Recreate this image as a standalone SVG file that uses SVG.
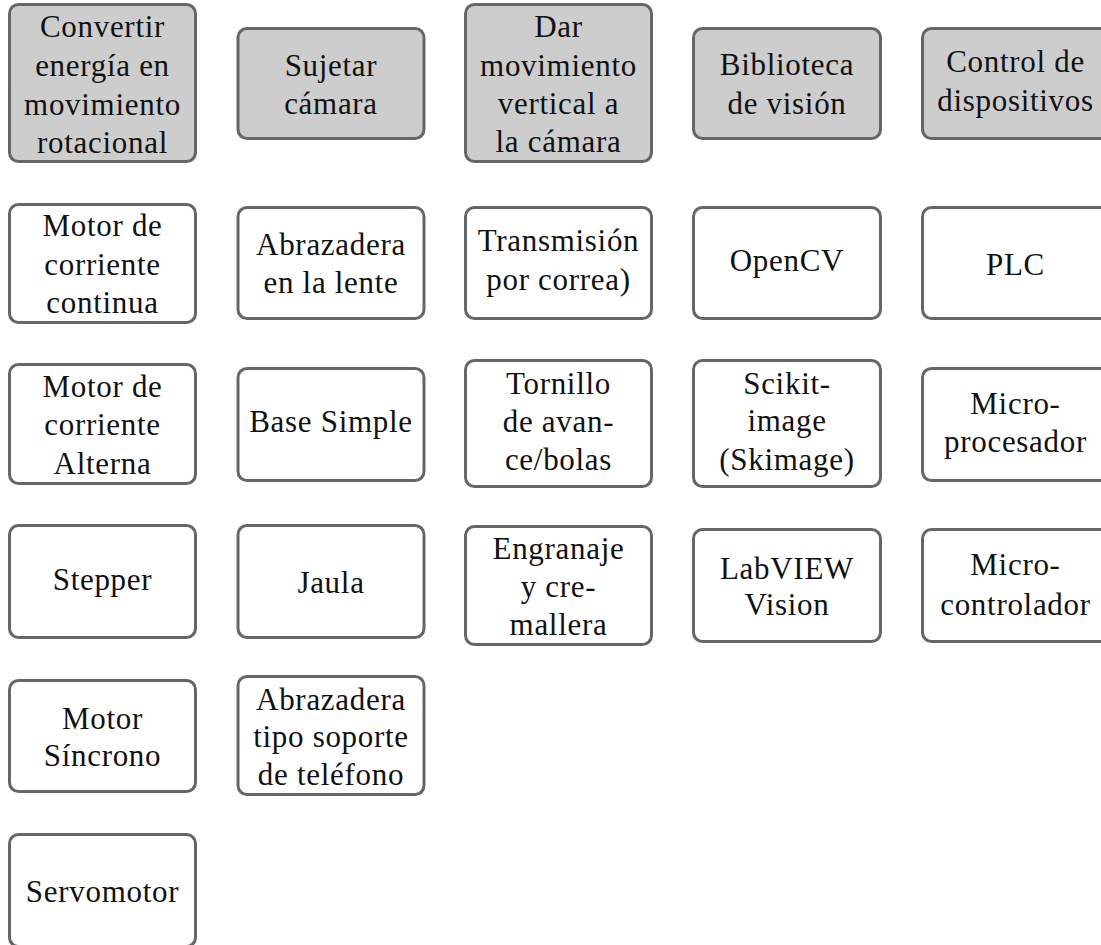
<svg xmlns="http://www.w3.org/2000/svg" width="1101" height="945" viewBox="0 0 1101 945">
  <style>
    .box { fill: #ffffff; stroke: #666666; stroke-width: 3; }
    .head { fill: #cdcdcd; }
    text { font-family: "Liberation Serif", "Times New Roman", serif; font-size: 31px; fill: #111111; text-anchor: middle; letter-spacing: 0.7px; }
  </style>
  <rect width="1101" height="945" fill="#ffffff"/>

  <!-- column 1: Convertir energía en movimiento rotacional -->
  <g id="n_convertir">
    <rect class="box head" x="9.5" y="4.5" width="186" height="157" rx="9"/>
    <text x="102.5" y="37">Convertir</text>
    <text x="102.5" y="76">energía en</text>
    <text x="102.5" y="114.5">movimiento</text>
    <text x="102.5" y="153">rotacional</text>
  </g>
  <g id="n_motor_cc">
    <rect class="box" x="9.5" y="204.5" width="186" height="118" rx="9"/>
    <text x="102.5" y="236">Motor de</text>
    <text x="102.5" y="274.5">corriente</text>
    <text x="102.5" y="313">continua</text>
  </g>
  <g id="n_motor_ca">
    <rect class="box" x="9.5" y="364.5" width="186" height="119" rx="9"/>
    <text x="102.5" y="396.5">Motor de</text>
    <text x="102.5" y="435">corriente</text>
    <text x="102.5" y="473.5">Alterna</text>
  </g>
  <g id="n_stepper">
    <rect class="box" x="9.5" y="525.5" width="186" height="112" rx="9"/>
    <text x="102.5" y="590">Stepper</text>
  </g>
  <g id="n_sincrono">
    <rect class="box" x="9.5" y="680.5" width="186" height="111" rx="9"/>
    <text x="102.5" y="728.5">Motor</text>
    <text x="102.5" y="766">Síncrono</text>
  </g>
  <g id="n_servo">
    <rect class="box" x="9.5" y="834.5" width="186" height="112" rx="9"/>
    <text x="102.5" y="901.5">Servomotor</text>
  </g>

  <!-- column 2: Sujetar cámara -->
  <g id="n_sujetar">
    <rect class="box head" x="238" y="28.5" width="186" height="110" rx="9"/>
    <text x="331" y="76">Sujetar</text>
    <text x="331" y="113.5">cámara</text>
  </g>
  <g id="n_abraz_lente">
    <rect class="box" x="238" y="207.5" width="186" height="111" rx="9"/>
    <text x="331" y="255">Abrazadera</text>
    <text x="331" y="293">en la lente</text>
  </g>
  <g id="n_base">
    <rect class="box" x="238" y="368.5" width="186" height="112" rx="9"/>
    <text x="331" y="431.5">Base Simple</text>
  </g>
  <g id="n_jaula">
    <rect class="box" x="238" y="525.5" width="186" height="112" rx="9"/>
    <text x="331" y="592.5">Jaula</text>
  </g>
  <g id="n_abraz_tel">
    <rect class="box" x="238" y="676.5" width="186" height="118" rx="9"/>
    <text x="331" y="709.5">Abrazadera</text>
    <text x="331" y="747">tipo soporte</text>
    <text x="331" y="785">de teléfono</text>
  </g>

  <!-- column 3: Dar movimiento vertical a la cámara -->
  <g id="n_dar">
    <rect class="box head" x="465.5" y="4.5" width="186" height="157" rx="9"/>
    <text x="558.5" y="37">Dar</text>
    <text x="558.5" y="75.5">movimiento</text>
    <text x="558.5" y="113.5">vertical a</text>
    <text x="558.5" y="152">la cámara</text>
  </g>
  <g id="n_correa">
    <rect class="box" x="465.5" y="207.5" width="186" height="111" rx="9"/>
    <text x="558.5" y="251">Transmisión</text>
    <text x="558.5" y="290">por correa)</text>
  </g>
  <g id="n_tornillo">
    <rect class="box" x="465.5" y="360.5" width="186" height="126" rx="9"/>
    <text x="558.5" y="393.5">Tornillo</text>
    <text x="558.5" y="431.5">de avan-</text>
    <text x="558.5" y="469.5">ce/bolas</text>
  </g>
  <g id="n_engranaje">
    <rect class="box" x="465.5" y="526.5" width="186" height="118" rx="9"/>
    <text x="558.5" y="558.5">Engranaje</text>
    <text x="558.5" y="596.5">y cre-</text>
    <text x="558.5" y="635">mallera</text>
  </g>

  <!-- column 4: Biblioteca de visión -->
  <g id="n_biblioteca">
    <rect class="box head" x="693.5" y="28.5" width="187" height="110" rx="9"/>
    <text x="787" y="75">Biblioteca</text>
    <text x="787" y="113.5">de visión</text>
  </g>
  <g id="n_opencv">
    <rect class="box" x="693.5" y="207.5" width="187" height="111" rx="9"/>
    <text x="787" y="270.5">OpenCV</text>
  </g>
  <g id="n_skimage">
    <rect class="box" x="693.5" y="360.5" width="187" height="126" rx="9"/>
    <text x="787" y="393.5">Scikit-</text>
    <text x="787" y="431">image</text>
    <text x="787" y="469.5">(Skimage)</text>
  </g>
  <g id="n_labview">
    <rect class="box" x="693.5" y="529.5" width="187" height="112" rx="9"/>
    <text x="787" y="578.5">LabVIEW</text>
    <text x="787" y="615">Vision</text>
  </g>

  <!-- column 5: Control de dispositivos -->
  <g id="n_control">
    <rect class="box head" x="922.5" y="28.5" width="187" height="110" rx="9"/>
    <text x="1015.5" y="72">Control de</text>
    <text x="1015.5" y="110.5">dispositivos</text>
  </g>
  <g id="n_plc">
    <rect class="box" x="922.5" y="207.5" width="187" height="111" rx="9"/>
    <text x="1015.5" y="275">PLC</text>
  </g>
  <g id="n_microproc">
    <rect class="box" x="922.5" y="368.5" width="187" height="112" rx="9"/>
    <text x="1015.5" y="413.5">Micro-</text>
    <text x="1015.5" y="451.5">procesador</text>
  </g>
  <g id="n_microctrl">
    <rect class="box" x="922.5" y="529.5" width="187" height="112" rx="9"/>
    <text x="1015.5" y="575">Micro-</text>
    <text x="1015.5" y="615">controlador</text>
  </g>

  <!-- no connectors between the option boxes -->
  <g id="connectors"/>
</svg>
